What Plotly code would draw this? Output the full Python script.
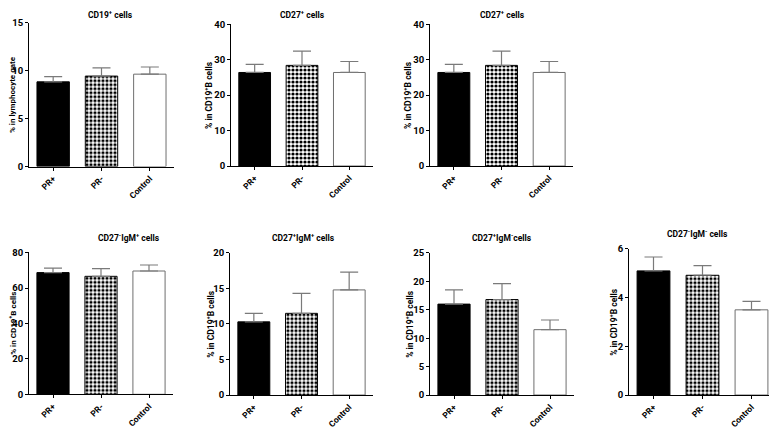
import plotly.graph_objects as go

# The page body keeps the browser's default 8 px margin, so the figure is
# drawn 8 px in from the window's top-left corner and sized to fill the rest.
OFF = 8
W, H = 777 - OFF, 428 - OFF

categories = ["PR+", "PR-", "Control"]

cd19_mean = [8.85, 9.45, 9.65]
cd19_err = [0.55, 0.85, 0.75]
cd27_mean = [26.4, 28.4, 26.4]
cd27_err = [2.3, 4.0, 3.1]
cd27n_igmp_mean = [68.7, 66.6, 69.6]
cd27n_igmp_err = [2.5, 4.4, 3.4]
cd27p_igmp_mean = [10.3, 11.5, 14.8]
cd27p_igmp_err = [1.2, 2.8, 2.5]
cd27p_igmn_mean = [16.0, 16.8, 11.5]
cd27p_igmn_err = [2.5, 2.8, 1.7]
cd27n_igmn_mean = [5.1, 4.92, 3.5]
cd27n_igmn_err = [0.57, 0.4, 0.35]

titles = [
    "CD19<sup>+</sup> cells",
    "CD27<sup>+</sup> cells",
    "CD27<sup>+</sup> cells",
    "CD27<sup>-</sup>IgM<sup>+</sup> cells",
    "CD27<sup>+</sup>IgM<sup>+</sup> cells",
    "CD27<sup>+</sup>IgM<sup>-</sup>cells",
    "CD27<sup>-</sup>IgM<sup>-</sup> cells",
]
ytitles = ["% in lymphocyte gate"] + ["% in CD19<sup>+</sup>B cells"] * 6
means = [cd19_mean, cd27_mean, cd27_mean, cd27n_igmp_mean, cd27p_igmp_mean, cd27p_igmn_mean, cd27n_igmn_mean]
errs = [cd19_err, cd27_err, cd27_err, cd27n_igmp_err, cd27p_igmp_err, cd27p_igmn_err, cd27n_igmn_err]
ymax = [15, 40, 40, 80, 20, 25, 6]
ytickvals = [
    [0, 5, 10, 15],
    [0, 10, 20, 30, 40],
    [0, 10, 20, 30, 40],
    [0, 20, 40, 60, 80],
    [0, 5, 10, 15, 20],
    [0, 5, 10, 15, 20, 25],
    [0, 2, 4, 6],
]

# pixel geometry in window coordinates: (x0, x1, ytop, ybottom)
boxes = [
    (29, 174, 22.7, 166.5),
    (231, 373, 24, 166),
    (430, 573, 24, 166),
    (29, 173, 252.3, 394.3),
    (230, 373, 252.7, 395),
    (430, 574, 252.7, 395),
    (629, 776, 248.7, 395),
]
title_pos = [(110, 14), (302, 14), (502, 14), (129, 237), (303, 237), (502, 237), (697, 233)]
ytitle_x = [12.5, 208, 407, 12.5, 210, 409, 613]
ytitle_size = [8, 8.5, 8.5, 8, 8.5, 8.5, 8.5]

FONT = "Roboto"
fig = go.Figure()
annotations = []


def px(x):
    return (x - OFF) / W


def py(y):
    return 1 - (y - OFF) / H


for i in range(7):
    x0, x1, yt, yb = boxes[i]
    xa = "x" if i == 0 else f"x{i+1}"
    ya = "y" if i == 0 else f"y{i+1}"
    colors = ["black", "black", "white"]
    lines = ["black", "black", "#6e6e6e"]
    fig.add_trace(go.Bar(
        x=categories, y=means[i],
        xaxis=xa, yaxis=ya,
        width=0.67,
        marker=dict(
            color=colors,
            line=dict(color=lines, width=1),
            pattern=dict(
                shape=["", ".", ""],
                fgcolor="white",
                bgcolor="black",
                size=4,
                solidity=0.5,
            ),
        ),
        error_y=dict(type="data", array=errs[i], arrayminus=[0, 0, 0], symmetric=False,
                     color="#7a7a7a", thickness=1.2, width=9),
        showlegend=False,
        cliponaxis=False,
        hoverinfo="skip",
    ))
    xkey = "xaxis" if i == 0 else f"xaxis{i+1}"
    ykey = "yaxis" if i == 0 else f"yaxis{i+1}"
    fig.layout[xkey] = dict(
        domain=[px(x0), min(px(x1), 1.0)], anchor=ya, automargin=False,
        range=[-0.5, 2.5], type="category",
        showline=True, linecolor="black", linewidth=1,
        ticks="outside", ticklen=3, tickcolor="black",
        tickangle=-45, showgrid=False, zeroline=False,
        tickfont=dict(family=FONT, size=8.5, color="black", weight=700),
    )
    fig.layout[ykey] = dict(
        domain=[py(yb), py(yt)], anchor=xa, automargin=False,
        range=[0, ymax[i] * 1.002], tickmode="array", tickvals=ytickvals[i],
        ticktext=[str(v) for v in ytickvals[i]],
        showline=True, linecolor="black", linewidth=1,
        ticks="outside", ticklen=3, tickcolor="black",
        showgrid=False, zeroline=False,
        tickfont=dict(family=FONT, size=9.5, color="black", weight=700),
    )
    tx, ty = title_pos[i]
    annotations.append(dict(
        text="<b>" + titles[i] + "</b>", x=px(tx), y=py(ty), xref="paper", yref="paper",
        showarrow=False, xanchor="center", yanchor="middle",
        font=dict(family=FONT, size=8.5, color="black"),
    ))
    annotations.append(dict(
        text="<b>" + ytitles[i] + "</b>", x=px(ytitle_x[i]), y=py((yt + yb) / 2),
        xref="paper", yref="paper", showarrow=False, textangle=-90,
        xanchor="center", yanchor="middle",
        font=dict(family=FONT, size=ytitle_size[i], color="black"),
    ))

fig.update_layout(
    template="none",
    width=W, height=H,
    margin=dict(l=0, r=0, t=0, b=0, pad=0),
    paper_bgcolor="white", plot_bgcolor="white",
    annotations=annotations,
    bargap=0.33,
)

fig.write_html("out.html", config={"displayModeBar": False})
